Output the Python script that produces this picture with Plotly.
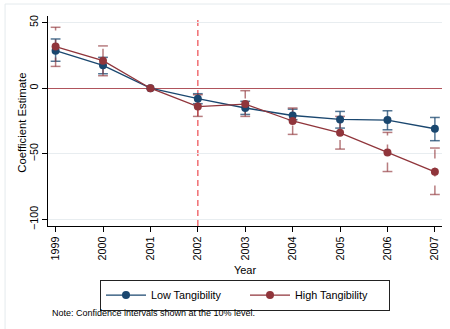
import plotly.graph_objects as go

years = [1999, 2000, 2001, 2002, 2003, 2004, 2005, 2006, 2007]
low_est = [28.6, 17.4, 0.0, -8.0, -15.1, -20.8, -23.8, -24.3, -30.9]
low_lo = [20.5, 11.0, 0.0, -11.8, -20.0, -24.0, -30.4, -31.7, -40.0]
low_hi = [37.5, 23.5, 0.0, -4.2, -10.0, -16.0, -17.7, -17.2, -22.3]
high_est = [31.7, 21.0, 0.0, -14.0, -12.1, -25.0, -34.0, -49.0, -63.7]
high_lo = [16.6, 9.5, 0.0, -21.5, -21.5, -35.2, -46.4, -63.5, -81.0]
high_hi = [46.4, 32.2, 0.0, -5.0, -1.9, -15.1, -21.5, -33.7, -45.6]
treat_year = 2002
yticks = [50, 0, -50, -100]

BLUE = "#1a476f"
RED = "#90353b"
FONT = "Arial, Liberation Sans, sans-serif"


def ci_segments(xs, lo, hi):
    sx, sy = [], []
    for x, a, b in zip(xs, lo, hi):
        if a == b:
            continue
        sx += [x, x, None]
        sy += [a, b, None]
    return sx, sy


def ci_caps(xs, lo, hi):
    cx, cy = [], []
    for x, a, b in zip(xs, lo, hi):
        if a == b:
            continue
        cx += [x, x]
        cy += [a, b]
    return cx, cy


fig = go.Figure()

for lo, hi, col, dash in [(low_lo, low_hi, "rgba(26,71,111,0.75)", "solid"),
                          (high_lo, high_hi, "rgba(144,53,59,0.65)", "dash")]:
    sx, sy = ci_segments(years, lo, hi)
    fig.add_trace(go.Scatter(x=sx, y=sy, mode="lines", showlegend=False,
                             line=dict(color=col, width=1.5, dash=dash),
                             hoverinfo="skip"))
    cx, cy = ci_caps(years, lo, hi)
    fig.add_trace(go.Scatter(x=cx, y=cy, mode="markers", showlegend=False,
                             marker=dict(symbol="line-ew", size=7,
                                         line=dict(color=col, width=1.5)),
                             hoverinfo="skip"))

fig.add_trace(go.Scatter(x=years, y=low_est, mode="lines+markers",
                         name="Low Tangibility",
                         line=dict(color=BLUE, width=1.3),
                         marker=dict(color=BLUE, size=8)))
fig.add_trace(go.Scatter(x=years, y=high_est, mode="lines+markers",
                         name="High Tangibility",
                         line=dict(color=RED, width=1.3),
                         marker=dict(color=RED, size=8)))

fig.add_vline(x=treat_year, line=dict(color="#f06e73", width=1.5, dash="6px,4px"),
              layer="below")

# outer light frame
fig.add_shape(type="rect", xref="paper", yref="paper",
              x0=-0.109, y0=-0.6, x1=1.2, y1=1.057,
              line=dict(color="#e4eaed", width=1), layer="below")

fig.add_annotation(text="Note: Confidence intervals shown at the 10% level.",
                   xref="paper", yref="paper", x=0.005, y=-0.413,
                   xanchor="left", yanchor="middle", showarrow=False,
                   font=dict(family=FONT, size=9, color="#000"))

fig.add_annotation(text="Coefficient Estimate", textangle=-90,
                   xref="paper", yref="paper", x=-0.0668, y=0.49,
                   xanchor="center", yanchor="middle", showarrow=False,
                   font=dict(family=FONT, size=11.3, color="#000"))

fig.update_layout(
    width=450, height=329,
    margin=dict(l=48, r=8, t=16, b=103),
    paper_bgcolor="white", plot_bgcolor="white",
    font=dict(family=FONT, size=10.8, color="#000"),
    showlegend=True,
    legend=dict(orientation="h", x=0.5, xanchor="center", y=-0.255,
                yanchor="top", bordercolor="#222", borderwidth=1,
                font=dict(family=FONT, size=10.8), bgcolor="white",
                itemwidth=40, entrywidth=89, tracegroupgap=0),
    xaxis=dict(range=[1998.84, 2007.15], tickvals=years,
               ticktext=[str(y) for y in years], tickangle=-90,
               showgrid=False, zeroline=False, showline=True,
               linecolor="#000", linewidth=1.3, ticks="outside",
               ticklen=5, tickcolor="#000",
               title=dict(text="Year", font=dict(size=11), standoff=6)),
    yaxis=dict(range=[-105, 55], tickvals=yticks, tickangle=-90,
               showgrid=True, gridcolor="#e8edf0", gridwidth=1,
               zeroline=True, zerolinecolor="#b0545c", zerolinewidth=1.3,
               showline=True, linecolor="#000",
               linewidth=1.3, ticks="outside", ticklen=5, tickcolor="#000"),
)

fig.write_html("out.html")
